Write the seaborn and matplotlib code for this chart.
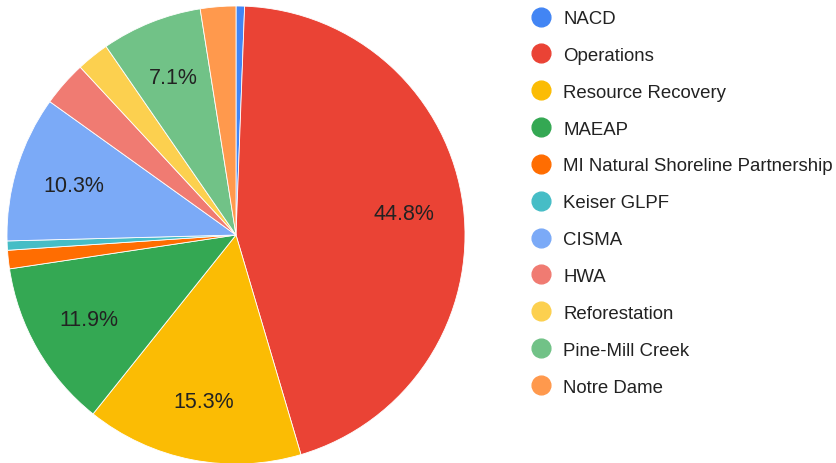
import matplotlib
matplotlib.use('Agg')
import matplotlib.pyplot as plt
from matplotlib.lines import Line2D
import seaborn as sns

# budget share by program (percent)
programs = ['NACD', 'Operations', 'Resource Recovery', 'MAEAP',
            'MI Natural Shoreline Partnership', 'Keiser GLPF', 'CISMA',
            'HWA', 'Reforestation', 'Pine-Mill Creek', 'Notre Dame']
shares = [0.6, 44.8, 15.3, 11.9, 1.3, 0.65, 10.3, 3.2, 2.3, 7.1, 2.5]
colors = ['#4285F4', '#EA4335', '#FBBC04', '#34A853', '#FF6D01', '#46BDC6',
          '#7BAAF7', '#F07B72', '#FCD04F', '#71C287', '#FF994D']

sns.set_theme(style='white')
plt.rcParams['font.family'] = ['Liberation Sans', 'DejaVu Sans']
pal = sns.color_palette(colors)

fig = plt.figure(figsize=(8.37, 4.64), dpi=100)
ax = fig.add_axes([7 / 837, (464 - 465) / 464, 458 / 837, 458 / 464])


def pct_label(p):
    return f'{p:.1f}%' if p >= 5 else ''


wedges, texts, autotexts = ax.pie(
    shares, colors=pal, startangle=90, counterclock=False,
    autopct=pct_label, pctdistance=0.74, radius=1,
    wedgeprops=dict(edgecolor='white', linewidth=0.6),
    textprops=dict(fontsize=15.5, color='#222222'))
ax.set_xlim(-1, 1)
ax.set_ylim(-1, 1)
ax.set_aspect('equal')
ax.axis('off')

handles = [Line2D([0], [0], marker='o', linestyle='', markersize=13.5,
                  markerfacecolor=c, markeredgecolor=c) for c in colors]
fig.legend(handles, programs, loc='upper left',
           bbox_to_anchor=(530 / 837, 1 - 11 / 464), frameon=False,
           fontsize=13.4, labelspacing=1.065, handletextpad=0.58,
           handlelength=1.2, borderaxespad=0, borderpad=0,
           labelcolor='#222222')

fig.savefig('out.png', dpi=100)
